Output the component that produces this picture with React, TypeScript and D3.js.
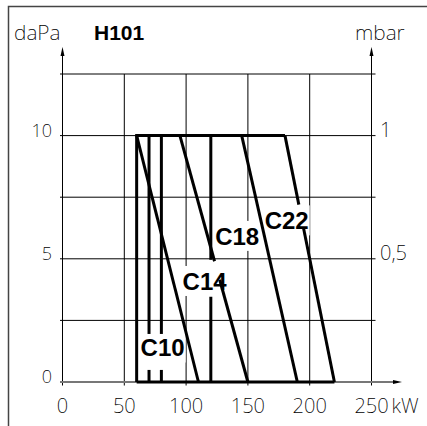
import * as d3 from "d3";
import { useEffect, useRef } from "react";

// kW ticks on the bottom axis
const kwTicks = [0, 50, 100, 150, 200, 250];
// daPa grid levels and labels
const gridLevels = [0, 2.5, 5, 7.5, 10, 12.5];
const daPaTicks = [0, 5, 10];
// mbar labels on the right
const mbarTicks = [0.5, 1];
const mbarLabels = ["0,5", "1"];

// thick curve segments [kW, daPa], with the gaps left for the labels
const curveSegments: [number, number][][] = [
  [[60, 0], [60, 10], [180, 10]],
  [[60, 0], [220, 0]],
  [[60, 10], [110, 0]],
  [[70, 10], [70, 1.95]],
  [[70, 0.49], [70, 0]],
  [[80, 10], [80, 1.95]],
  [[80, 0.49], [80, 0]],
  [[95, 10], [123, 4.9]],
  [[127.2, 4.15], [150, 0]],
  [[120, 10], [120, 4.96]],
  [[120, 3.46], [120, 0]],
  [[145, 10], [190, 0]],
  [[180, 10], [191.2, 7.2]],
  [[195, 6.25], [220, 0]],
];

const curveNames = ["C10", "C14", "C18", "C22"];
const nameKw = [81, 115, 141.3, 181.4];
const nameDaPa = [1.4, 4.1, 5.93, 6.56];

const thin = "'Noto Sans', Roboto, sans-serif";
const bold = "'Liberation Sans', Arial, sans-serif";

const App = () => {
  const ref = useRef<SVGSVGElement>(null);

  useEffect(() => {
    const svg = d3.select(ref.current);
    svg.selectAll("*").remove();

    const x = d3.scaleLinear().domain([0, 250]).range([62.5, 371.5]);
    const y = d3.scaleLinear().domain([0, 12.5]).range([382, 74]);

    // frame
    svg.append("path")
      .attr("d", "M8.5,426V6.5H427")
      .attr("fill", "none")
      .attr("stroke", "#444")
      .attr("stroke-width", 1.5);

    // horizontal grid
    svg.selectAll(".hg")
      .data(gridLevels.filter(d => d > 0))
      .enter()
      .append("line")
      .attr("x1", x(0) - 2.5)
      .attr("x2", x(250) + 4)
      .attr("y1", d => y(d))
      .attr("y2", d => y(d))
      .attr("stroke", "#000")
      .attr("stroke-width", 1);

    // vertical grid
    svg.selectAll(".vg")
      .data(kwTicks.slice(1, -1))
      .enter()
      .append("line")
      .attr("x1", d => x(d))
      .attr("x2", d => x(d))
      .attr("y1", y(0) + 3.5)
      .attr("y2", y(12.5))
      .attr("stroke", "#000")
      .attr("stroke-width", 1);

    // side axes with arrows
    [0, 250].forEach(k => {
      svg.append("line")
        .attr("x1", x(k)).attr("x2", x(k))
        .attr("y1", y(0) + 3.5).attr("y2", 52)
        .attr("stroke", "#000").attr("stroke-width", 1);
      svg.append("path")
        .attr("d", `M${x(k)},47L${x(k) + 2},56L${x(k) - 2},56Z`)
        .attr("fill", "#000");
    });

    // bottom axis
    svg.append("line")
      .attr("x1", x(0) - 2.5).attr("x2", 396)
      .attr("y1", y(0)).attr("y2", y(0))
      .attr("stroke", "#777").attr("stroke-width", 2);
    svg.append("path")
      .attr("d", `M402,${y(0)}L393,${y(0) - 2}L393,${y(0) + 2}Z`)
      .attr("fill", "#000");

    // label backgrounds
    svg.selectAll(".lb")
      .data(curveNames)
      .enter()
      .append("rect")
      .attr("x", (d, i) => x(nameKw[i]) - 23)
      .attr("y", (d, i) => y(nameDaPa[i]) - 15)
      .attr("width", 46)
      .attr("height", 30)
      .attr("fill", "#fff");

    // curves
    const line = d3.line<[number, number]>().x(d => x(d[0])).y(d => y(d[1]));
    svg.selectAll(".seg")
      .data(curveSegments)
      .enter()
      .append("path")
      .attr("d", d => line(d))
      .attr("fill", "none")
      .attr("stroke", "#000")
      .attr("stroke-width", 3)
      .attr("stroke-linejoin", "miter");

    // curve names
    svg.selectAll(".ln")
      .data(curveNames)
      .enter()
      .append("text")
      .attr("x", (d, i) => x(nameKw[i]))
      .attr("y", (d, i) => y(nameDaPa[i]))
      .attr("dy", "0.36em")
      .attr("text-anchor", "middle")
      .style("font-family", bold)
      .style("font-weight", "bold")
      .style("font-size", "24px")
      .text(d => d);

    // tick labels
    svg.selectAll(".lt")
      .data(daPaTicks)
      .enter()
      .append("text")
      .attr("x", 52)
      .attr("y", d => y(d) + 1)
      .attr("text-anchor", "end")
      .style("font-family", thin)
      .style("font-weight", 200)
      .style("font-size", "18px")
      .text(d => d);

    svg.selectAll(".rt")
      .data(mbarTicks)
      .enter()
      .append("text")
      .attr("x", 380)
      .attr("y", d => y(d * 10) + 1)
      .style("font-family", thin)
      .style("font-weight", 200)
      .style("font-size", "20px")
      .text((d, i) => mbarLabels[i]);

    svg.selectAll(".bt")
      .data(kwTicks)
      .enter()
      .append("text")
      .attr("x", d => x(d))
      .attr("y", 412.5)
      .attr("text-anchor", "middle")
      .style("font-family", thin)
      .style("font-weight", 200)
      .style("font-size", "20px")
      .text(d => d);

    svg.append("text")
      .attr("x", x(250) + 20)
      .attr("y", 412.5)
      .style("font-family", thin)
      .style("font-weight", 200)
      .style("font-size", "20px")
      .text("kW");

    // units and title
    svg.append("text")
      .attr("x", 14).attr("y", 40)
      .style("font-family", thin).style("font-weight", 200).style("font-size", "21px")
      .text("daPa");
    svg.append("text")
      .attr("x", 355).attr("y", 40)
      .style("font-family", thin).style("font-weight", 200).style("font-size", "21px")
      .text("mbar");
    svg.append("text")
      .attr("x", 94).attr("y", 40)
      .style("font-family", bold).style("font-weight", "bold").style("font-size", "21px")
      .text("H101");
  }, []);

  return (
    <svg
      ref={ref}
      width={427}
      height={426}
      style={{ position: "absolute", left: 0, top: 0, background: "#fff" }}
    />
  );
};

export default App;
